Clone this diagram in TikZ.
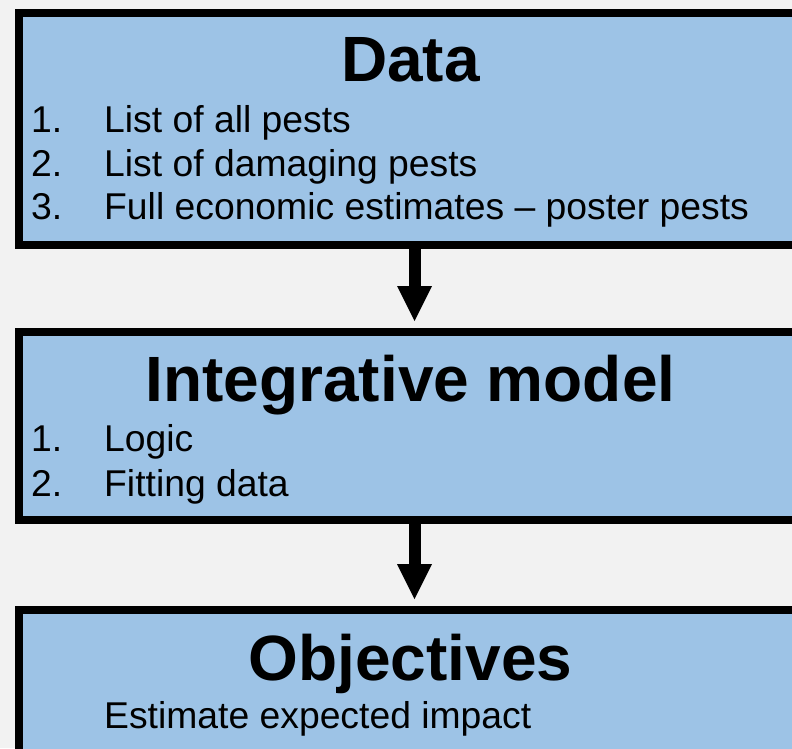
\documentclass[tikz,border=0pt]{standalone}
\usepackage{fontspec}
\setmainfont{Liberation Sans}
\usetikzlibrary{arrows.meta}
\definecolor{bg}{RGB}{242,242,242}
\definecolor{boxblue}{RGB}{157,195,230}
\tikzset{
  box/.style={draw=black, line width=8pt, fill=boxblue, rectangle, inner sep=0pt, minimum width=791pt, anchor=north west},
  title/.style={anchor=base, inner sep=0pt, font=\fontsize{64}{77}\selectfont\bfseries},
  item/.style={anchor=base west, inner sep=0pt, font=\fontsize{37.3}{43}\selectfont},
  flow/.style={line width=12pt, -{Triangle[width=35pt, length=35pt, line width=0pt]}, shorten >=7pt}
}
\begin{document}
\begin{tikzpicture}[x=1pt, y=-1pt]
\fill[bg] (0,0) rectangle (792,748);
\useasboundingbox (0,0) rectangle (792,748);
\node[box, minimum height=232.5pt] (data) at (15,8.5) {};
\node[box, minimum height=187.5pt] (model) at (15,328) {};
\node[box, minimum height=142.5pt] (obj) at (15,606) {};
\draw[flow] (data.south) -- (model.north);
\draw[flow] (model.south) -- (obj.north);
% box 1 texts
\node[title] (t1) at (410.5,81) {Data};
\node[item] (n11) at (31,132.5) {1.};
\node[item] (i11) at (104,132.5) {List of all pests};
\node[item] (n12) at (31,176.5) {2.};
\node[item] (i12) at (104,176.5) {List of damaging pests};
\node[item] (n13) at (31,219.5) {3.};
\node[item] (i13) at (104,219.5) {Full economic estimates – poster pests};
% box 2 texts
\node[title] (t2) at (410.5,401) {Integrative model};
\node[item] (n21) at (31,451) {1.};
\node[item] (i21) at (104,451) {Logic};
\node[item] (n22) at (31,496) {2.};
\node[item] (i22) at (104,496) {Fitting data};
% box 3 texts
\node[title] (t3) at (410.5,680) {Objectives};
\node[item] (i31) at (104,728.5) {Estimate expected impact};
\end{tikzpicture}
\end{document}
